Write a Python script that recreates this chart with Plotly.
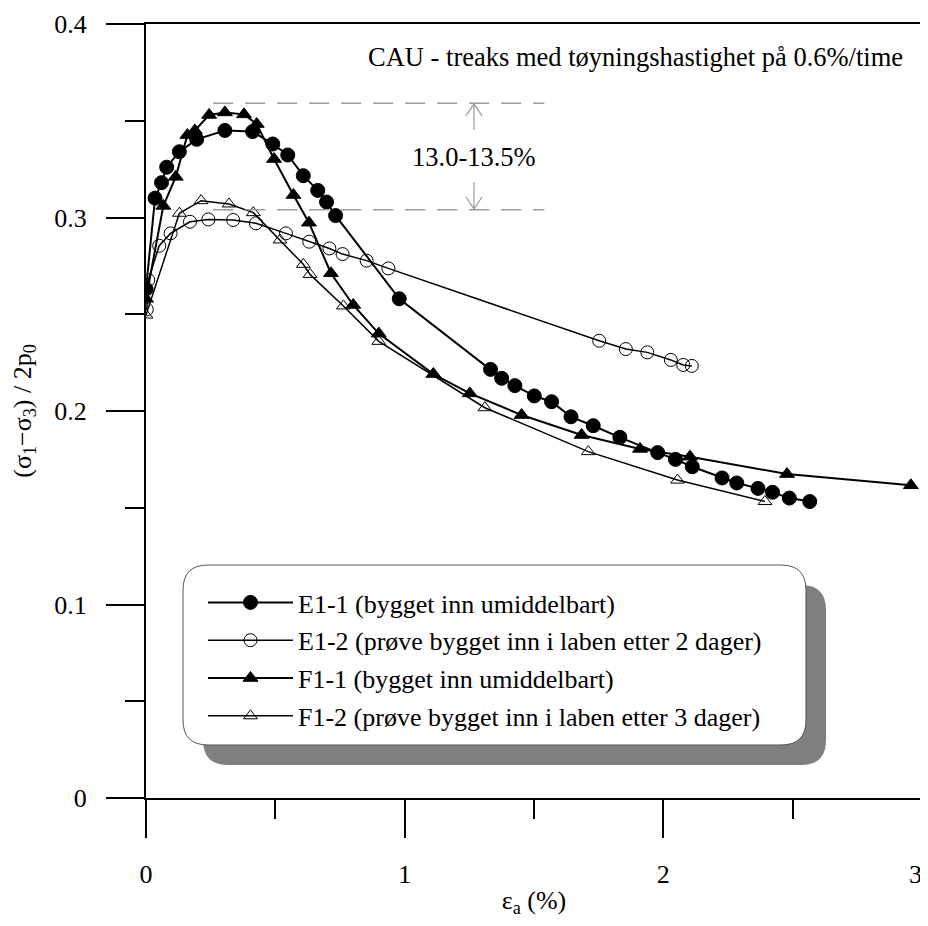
import plotly.graph_objects as go

# E1-1 (filled circles)
e11_x = [0, 0.035, 0.06, 0.08, 0.129, 0.196, 0.305, 0.412, 0.49, 0.548, 0.608, 0.664, 0.698, 0.733,
         0.979, 1.332, 1.375, 1.426, 1.501, 1.568, 1.643, 1.729, 1.832, 1.978, 2.047, 2.112, 2.227,
         2.284, 2.366, 2.422, 2.487, 2.566]
e11_y = [0.263, 0.310, 0.318, 0.326, 0.334, 0.3404, 0.345, 0.3444, 0.338, 0.3323, 0.3216, 0.314, 0.308, 0.301,
         0.258, 0.2215, 0.2169, 0.2131, 0.2078, 0.2048, 0.197, 0.1924, 0.1864, 0.1785, 0.175, 0.1712, 0.1654,
         0.1628, 0.160, 0.158, 0.155, 0.1532]

# E1-2 (open circles)
e12_x = [0.003, 0.009, 0.051, 0.095, 0.170, 0.241, 0.337, 0.425, 0.541, 0.631, 0.709, 0.76, 0.853, 0.937,
         1.752, 1.855, 1.938, 2.029, 2.077, 2.11]
e12_y = [0.2525, 0.2677, 0.2854, 0.2918, 0.2978, 0.299, 0.2987, 0.297, 0.2918, 0.2875, 0.284, 0.2811, 0.2777, 0.2737,
         0.2363, 0.232, 0.2303, 0.2264, 0.2238, 0.2233]

# F1-1 (filled triangles)
f11_x = [0, 0.067, 0.115, 0.16, 0.189, 0.244, 0.305, 0.379, 0.428, 0.495, 0.57, 0.63, 0.715, 0.801, 0.9,
         1.111, 1.252, 1.452, 1.684, 1.91, 2.103, 2.478, 2.957]
f11_y = [0.258, 0.306, 0.321, 0.3426, 0.345, 0.353, 0.3543, 0.3533, 0.3483, 0.3302, 0.3116, 0.2973, 0.2712, 0.2548, 0.240,
         0.2191, 0.2091, 0.1979, 0.1876, 0.1804, 0.1764, 0.1674, 0.1616]

# F1-2 (open triangles)
f12_x = [0, 0.129, 0.213, 0.321, 0.415, 0.518, 0.608, 0.634, 0.763, 0.9, 1.31, 1.71, 2.055, 2.393]
f12_y = [0.2496, 0.3022, 0.3087, 0.307, 0.3025, 0.2884, 0.2758, 0.2706, 0.2543, 0.236, 0.2017, 0.179, 0.1643, 0.1532]

names = ["E1-1 (bygget inn umiddelbart)",
         "E1-2 (prøve bygget inn i laben etter 2 dager)",
         "F1-1 (bygget inn umiddelbart)",
         "F1-2 (prøve bygget inn i laben etter 3 dager)"]

x_ticks = [0, 1, 2, 3]
# last label padded so it is not cut by the right page edge
x_ticktext = ["0", "1", "2", "3&nbsp;&nbsp;"]

FONT = "'Liberation Serif', 'Times New Roman', serif"
# page body has an 8px margin, so keep the figure inside the window (no scrollbars)
W, H = 920, 910
L, R, T, B = 138, 6, 16, 120
PW, PH = W - L - R, H - T - B
OFF = 8


def px2paper(px, py):
    # screenshot pixels -> paper coords
    return (px - OFF - L) / PW, (H - B - (py - OFF)) / PH


def rounded_box(x0, y0, x1, y1, r):
    # rounded rectangle path (pixel corners -> paper coords)
    def p(x, y):
        a, b = px2paper(x, y)
        return f"{a:.4f},{b:.4f}"
    pts = ["M" + p(x0 + r, y0),
           "L" + p(x1 - r, y0), "Q" + p(x1, y0) + " " + p(x1, y0 + r),
           "L" + p(x1, y1 - r), "Q" + p(x1, y1) + " " + p(x1 - r, y1),
           "L" + p(x0 + r, y1), "Q" + p(x0, y1) + " " + p(x0, y1 - r),
           "L" + p(x0, y0 + r), "Q" + p(x0, y0) + " " + p(x0 + r, y0)]
    return " ".join(pts) + " Z"


fig = go.Figure()
series = [(e11_x, e11_y, "circle", 14, 2),
          (e12_x, e12_y, "circle-open", 13, 1.5),
          (f11_x, f11_y, "triangle-up", 13, 2),
          (f12_x, f12_y, "triangle-up-open", 12, 1.5)]
for (xs, ys, sym, sz, lw), nm in zip(series, names):
    fig.add_trace(go.Scatter(x=xs, y=ys, name=nm, mode="lines+markers", legendgroup=nm,
                             line=dict(color="black", width=lw),
                             marker=dict(symbol=sym, size=sz, color="black", line=dict(color="black", width=1))))

shapes = [
    dict(type="path", xref="paper", yref="paper", path=rounded_box(203, 585, 826, 765, 25),
         fillcolor="#7f7f7f", line=dict(width=0), layer="above"),
    dict(type="path", xref="paper", yref="paper", path=rounded_box(183, 565, 806, 745, 25),
         fillcolor="white", line=dict(color="#555", width=1), layer="above"),
    # dashed reference lines
    dict(type="line", x0=0.26, x1=1.54, y0=0.359, y1=0.359, line=dict(color="#999", width=1.5, dash="20px,12px")),
    dict(type="line", x0=0.26, x1=1.54, y0=0.304, y1=0.304, line=dict(color="#999", width=1.5, dash="20px,12px")),
    # arrows
    dict(type="path", path="M1.268,0.3452 L1.268,0.3587 M1.237,0.3525 L1.268,0.3587 L1.299,0.3525",
         line=dict(color="#999", width=1.2)),
    dict(type="path", path="M1.268,0.3183 L1.268,0.3044 M1.237,0.3106 L1.268,0.3044 L1.299,0.3106",
         line=dict(color="#999", width=1.2)),
]

lx, ly = px2paper(203, 579)
tx, ty = px2paper(905, 57)
fig.update_layout(
    width=W, height=H,
    margin=dict(l=L, r=R, t=T, b=B, autoexpand=False),
    plot_bgcolor="white", paper_bgcolor="white",
    font=dict(family=FONT, size=26, color="black"),
    shapes=shapes,
    showlegend=True,
    legend=dict(x=lx, y=ly, xanchor="left", yanchor="top", bgcolor="rgba(0,0,0,0)",
                itemwidth=85, font=dict(size=26), tracegroupgap=1, traceorder="grouped"),
    annotations=[
        dict(text="CAU - treaks med tøyningshastighet på 0.6%/time", xref="paper", yref="paper",
             x=tx, y=ty, xanchor="right", yanchor="middle", showarrow=False, font=dict(size=26.5)),
        dict(text="13.0-13.5%", x=1.268, y=0.3315, showarrow=False, font=dict(size=26.5)),
    ],
    xaxis=dict(range=[0, 3], tickvals=x_ticks, ticktext=x_ticktext, showline=True, linecolor="black",
               linewidth=2, mirror=True, ticks="outside", ticklen=38, tickwidth=2, tickcolor="black",
               minor=dict(dtick=0.5, ticks="outside", ticklen=19, tickwidth=2, tickcolor="black"),
               showgrid=False, zeroline=False, tickfont=dict(size=26), automargin=False,
               ticklabelstandoff=14, ticklabeloverflow="allow",
               title=dict(text="ε<sub>a</sub> (%)", font=dict(size=26), standoff=6)),
    yaxis=dict(range=[0, 0.4], dtick=0.1, showline=True, linecolor="black", linewidth=2,
               mirror=True, ticks="outside", ticklen=38, tickwidth=2, tickcolor="black",
               minor=dict(dtick=0.05, ticks="outside", ticklen=19, tickwidth=2, tickcolor="black"),
               showgrid=False, zeroline=False, tickfont=dict(size=26), automargin=False,
               ticklabelstandoff=14,
               title=dict(text="(σ<sub>1</sub>−σ<sub>3</sub>) / 2p<sub>0</sub>", font=dict(size=26), standoff=16)),
)

fig.write_html("out.html")
